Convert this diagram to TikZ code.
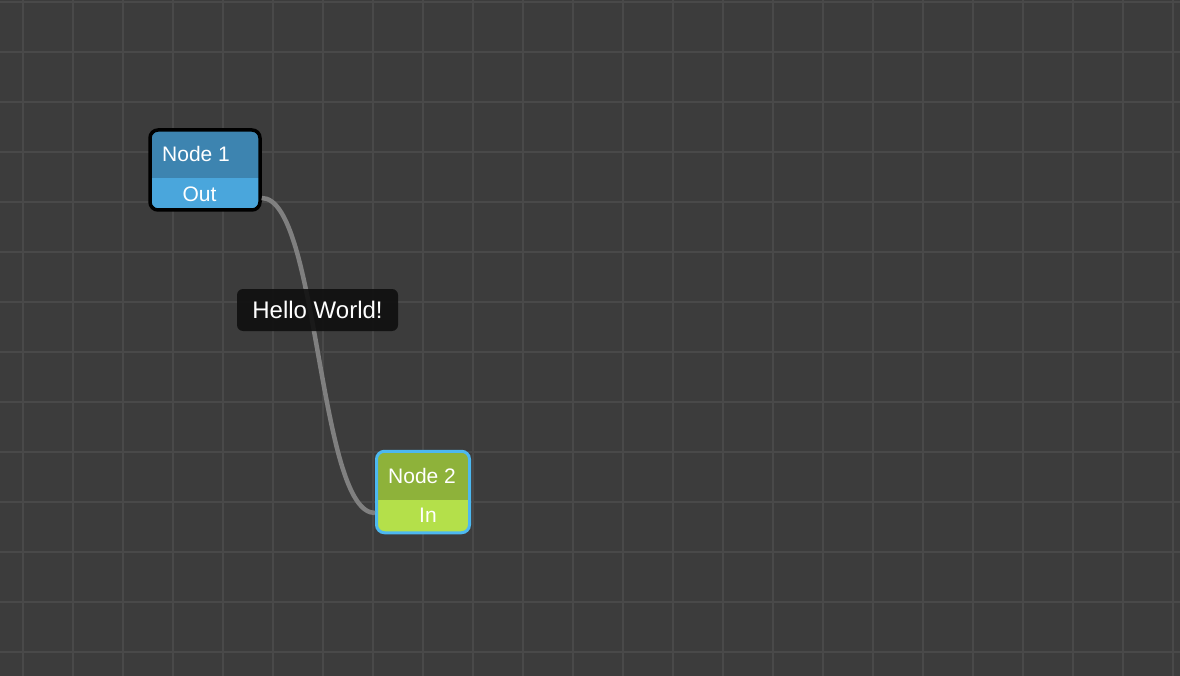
\documentclass[tikz,border=0pt]{standalone}
\usepackage{fontspec}
\setmainfont{Liberation Sans}
\usetikzlibrary{positioning}

\definecolor{canvas}{HTML}{3C3C3C}
\definecolor{gridline}{HTML}{494949}
\definecolor{hdrblue}{HTML}{3D84B0}
\definecolor{portblue}{HTML}{4AA6DC}
\definecolor{hdrgreen}{HTML}{8EB23A}
\definecolor{portgreen}{HTML}{B4E04A}
\definecolor{selblue}{HTML}{4DB8F0}
\definecolor{wiregray}{HTML}{808080}
\definecolor{tipbg}{HTML}{0F0F0F}

\begin{document}
\begin{tikzpicture}[
  x=1pt, y=-1pt,
  every node/.style={font=\fontsize{21}{25}\selectfont, text=white, inner sep=0pt},
  box/.style={rounded corners=8pt},
  portfill/.style 2 args={path picture={
      \fill[#1, sharp corners] (path picture bounding box.south west)
        rectangle ([yshift=#2]path picture bounding box.south east);}},
  gridln/.style={draw=gridline, line width=1.5pt},
  wire/.style={draw=wiregray, line width=4.5pt},
  tip/.style={fill=tipbg, fill opacity=0.9, text opacity=1, rounded corners=6pt,
              minimum width=161pt, minimum height=42pt,
              font=\fontsize{24}{28}\selectfont}
]
%% Canvas and grid
\fill[canvas] (0,0) rectangle (1180,676);
\useasboundingbox (0,0) rectangle (1180,676);
\foreach \gx in {23,73,...,1173}
  \draw[gridln] (\gx,0) -- (\gx,676);
\foreach \gy in {2,52,...,652}
  \draw[gridln] (0,\gy) -- (1180,\gy);

%% Nodes
\node[box, draw=black, line width=3.5pt, fill=hdrblue, portfill={portblue}{32pt},
      minimum width=110pt, minimum height=80pt] (n1) at (205,170) {};
\node[anchor=west] (t1)   at (162,154) {Node 1};
\node              (out1) at (199.5,194) {Out};

\node[box, draw=selblue, line width=3pt, fill=hdrgreen, portfill={portgreen}{33pt},
      minimum width=93pt, minimum height=81.5pt] (n2) at (423,492) {};
\node[anchor=west] (t2)  at (388,476) {Node 2};
\node              (in2) at (428,515) {In};

%% Connection
\draw[wire] ([yshift=-4pt]n1.east |- out1)
  .. controls +(57,0) and +(-57,0) .. ([yshift=2pt]n2.west |- in2);

%% Label
\node[tip] (hello) at (317.5,310) {Hello World!};
\end{tikzpicture}
\end{document}
